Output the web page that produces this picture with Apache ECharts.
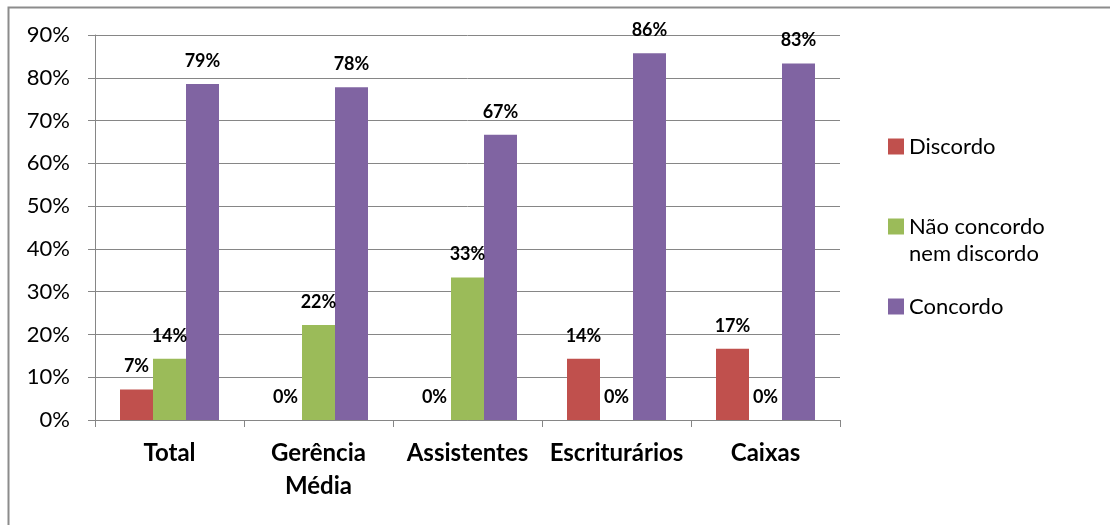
<!DOCTYPE html>
<html>
<head>
<meta charset="utf-8">
<script src="https://cdn.jsdelivr.net/npm/echarts@6/dist/echarts.min.js"></script>
<style>
  html, body { margin: 0; padding: 0; background: #fff; }
  #chart { width: 1110px; height: 525px; }
</style>
</head>
<body>
<div id="chart"></div>
<script>
// Survey answers per staff group (share of respondents, %)
const categories = ['Total', 'Gerência\nMédia', 'Assistentes', 'Escriturários', 'Caixas'];
const seriesNames = ['Discordo', 'Não concordo\nnem discordo', 'Concordo'];
const discordo = [7.14, 0, 0, 14.29, 16.67];
const neutro = [14.29, 22.22, 33.33, 0, 0];
const concordo = [78.57, 77.78, 66.67, 85.71, 83.33];
const colors = ['#C0504D', '#9BBB59', '#8064A2'];

const FONT = 'Lato, "Open Sans", sans-serif';
const GRID_COLOR = '#868686';

const labelStyle = {
  show: true,
  position: 'top',
  distance: 14,
  fontFamily: FONT,
  fontSize: 18,
  fontWeight: 'bold',
  color: '#000',
  formatter: p => Math.round(p.value) + '%'
};

function bar(name, data, color) {
  return {
    name: name,
    type: 'bar',
    data: data,
    barWidth: 33,
    barGap: '0%',
    itemStyle: { color: color },
    label: labelStyle
  };
}

const chart = echarts.init(document.getElementById('chart'), null, { renderer: 'canvas' });
chart.setOption({
  animation: false,
  backgroundColor: '#fff',
  grid: { left: 95, right: 270, top: 35, bottom: 105, containLabel: false },
  graphic: [{
    type: 'rect',
    shape: { x: 8.5, y: 7.5, width: 1200, height: 700 },
    style: { fill: null, stroke: '#8c8c8c', lineWidth: 2 },
    silent: true
  }],
  legend: {
    orient: 'vertical',
    left: 888,
    top: 133,
    padding: 0,
    itemWidth: 16,
    itemHeight: 16,
    itemGap: 26,
    icon: 'rect',
    // a leading blank line keeps the icon level with the first line of a two-line name
    formatter: name => (name.indexOf('\n') >= 0 ? ' \n' + name : name),
    textStyle: { fontFamily: FONT, fontSize: 22, color: '#000', lineHeight: 27 },
    data: seriesNames
  },
  xAxis: {
    type: 'category',
    data: categories,
    axisLine: { lineStyle: { color: GRID_COLOR, width: 1 } },
    axisTick: { show: true, length: 7, lineStyle: { color: GRID_COLOR } },
    axisLabel: {
      margin: 17,
      fontFamily: FONT,
      fontSize: 24,
      fontWeight: 'bold',
      color: '#000',
      lineHeight: 33,
      interval: 0
    }
  },
  yAxis: {
    type: 'value',
    min: 0,
    max: 90,
    interval: 10,
    axisLine: { show: true, lineStyle: { color: GRID_COLOR, width: 1 } },
    axisTick: { show: true, length: 7, lineStyle: { color: GRID_COLOR } },
    splitLine: { lineStyle: { color: GRID_COLOR, width: 1 } },
    axisLabel: {
      margin: 25,
      fontFamily: FONT,
      fontSize: 22,
      color: '#000',
      formatter: '{value}%'
    }
  },
  series: [
    bar(seriesNames[0], discordo, colors[0]),
    bar(seriesNames[1], neutro, colors[1]),
    bar(seriesNames[2], concordo, colors[2])
  ]
});
</script>
</body>
</html>
